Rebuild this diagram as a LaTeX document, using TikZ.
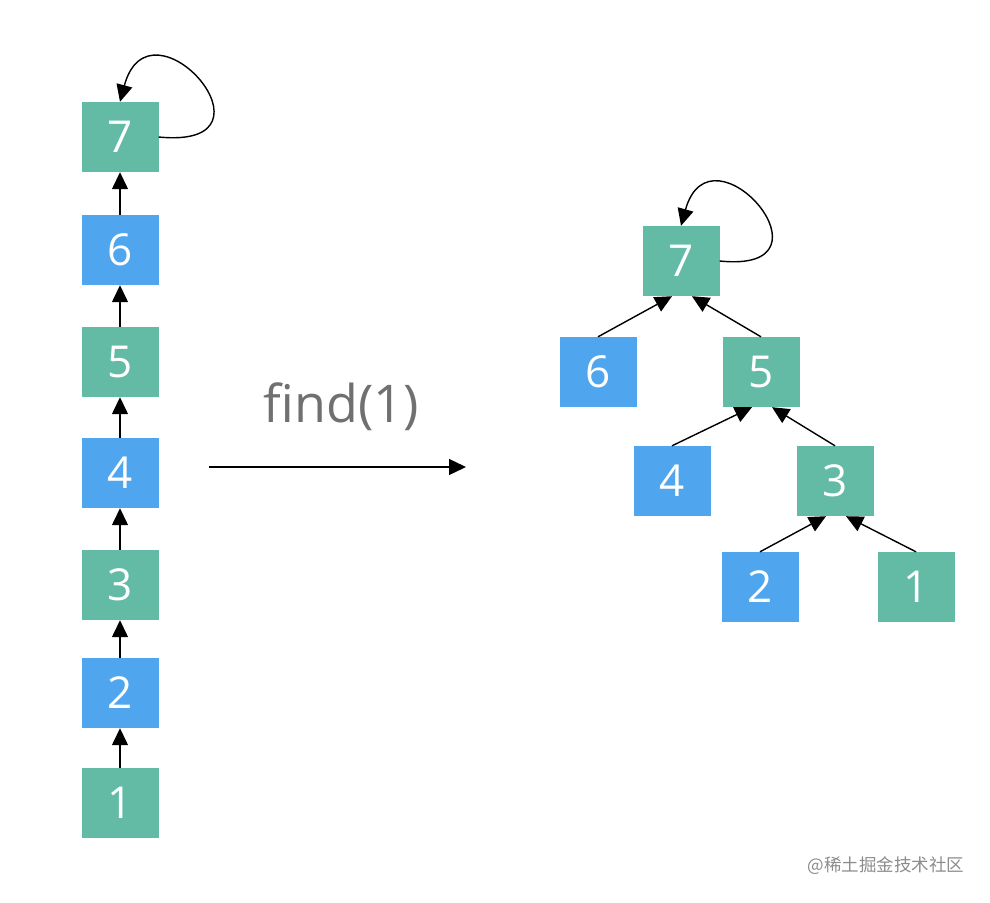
\documentclass[tikz,border=0pt]{standalone}
\usepackage{fontspec}
\setmainfont{Open Sans}
\newfontfamily\cjkfont{Noto Sans CJK SC}
\usetikzlibrary{arrows.meta,calc}
\definecolor{teal7}{HTML}{63BBA6}
\definecolor{blue6}{HTML}{4FA6EE}
\begin{document}
\begin{tikzpicture}[x=1pt,y=1pt,
        box/.style={minimum width=77pt,minimum height=70pt,inner sep=0pt,text=white,font=\fontsize{44}{44}\selectfont},
        tbox/.style={box,fill=teal7},
        bbox/.style={box,fill=blue6},
        link/.style={line width=1.4pt,-{Triangle[length=17pt,width=16pt]}}]
        \useasboundingbox (0,0) rectangle (990,-902);
        % left chain
        \node[tbox] (l7) at (120,-137) {7};
        \node[bbox] (l6) at (120,-250) {6};
        \node[tbox] (l5) at (120,-362) {5};
        \node[bbox] (l4) at (120,-473) {4};
        \node[tbox] (l3) at (120,-585) {3};
        \node[bbox] (l2) at (120,-693) {2};
        \node[tbox] (l1) at (120,-803) {1};
        \draw[link] (l1) -- (l2);
        \draw[link] (l2) -- (l3);
        \draw[link] (l3) -- (l4);
        \draw[link] (l4) -- (l5);
        \draw[link] (l5) -- (l6);
        \draw[link] (l6) -- (l7);
        \draw[link] (l7.east) .. controls (290,-150) and (150,10) .. (l7.north);
        % find(1)
        \node[text=black!56,font=\fontsize{52}{52}\selectfont] (find) at (341,-407) {find(1)};
        \coordinate (fa) at (209,-467);
        \coordinate (fb) at (466,-467);
        \draw[link] (fa) -- (fb);
        % compressed tree
        \node[tbox] (r7) at (681,-261) {7};
        \node[bbox] (r6) at (598,-372) {6};
        \node[tbox] (r5) at (761,-372) {5};
        \node[bbox] (r4) at (672,-481) {4};
        \node[tbox] (r3) at (835,-481) {3};
        \node[bbox] (r2) at (760,-587) {2};
        \node[tbox] (r1) at (916,-587) {1};
        \draw[link] (r6.north) -- ($(r7.south)+(-9,0)$);
        \draw[link] (r5.north) -- ($(r7.south)+(11,0)$);
        \draw[link] (r4.north) -- ($(r5.south)+(-9,0)$);
        \draw[link] (r3.north) -- ($(r5.south)+(11,0)$);
        \draw[link] (r2.north) -- ($(r3.south)+(-9,0)$);
        \draw[link] (r1.north) -- ($(r3.south)+(11,0)$);
        \draw[link] (r7.east) .. controls (845,-274) and (711,-118) .. (r7.north);
        % watermark
        \node[text=black!45,font=\cjkfont\fontsize{17.5}{17.5}\selectfont] (mark) at (886,-866) {@稀土掘金技术社区};
\end{tikzpicture}
\end{document}
